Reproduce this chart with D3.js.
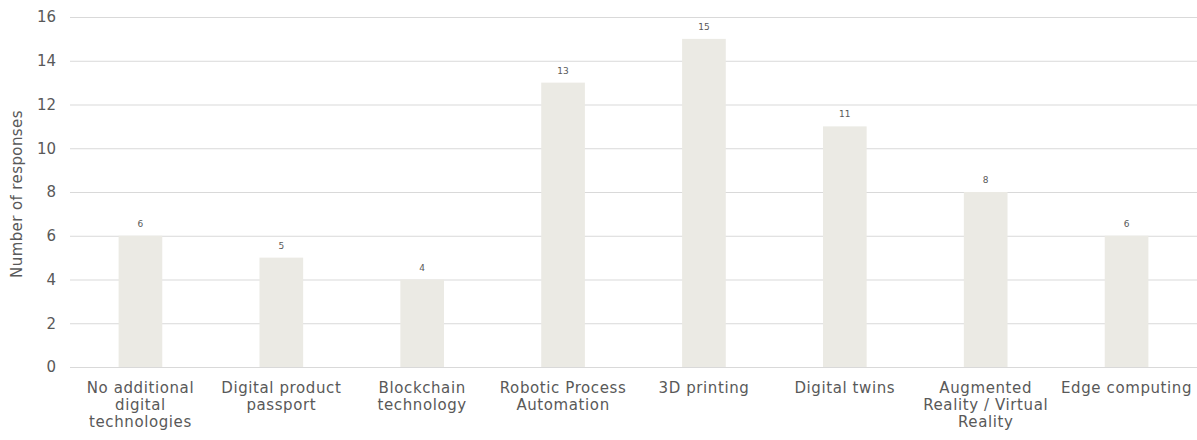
<!DOCTYPE html>
<html>
<head>
<meta charset="utf-8">
<script src="https://cdn.jsdelivr.net/npm/d3@7"></script>
<style>
  body { margin: 0; background: #fff; }
  text { font-family: "DejaVu Sans", sans-serif; fill: #595959; }
</style>
</head>
<body>
<svg id="chart" width="1197" height="440"></svg>
<script>
// data
var categories = [
  "No additional digital technologies",
  "Digital product passport",
  "Blockchain technology",
  "Robotic Process Automation",
  "3D printing",
  "Digital twins",
  "Augmented Reality / Virtual Reality",
  "Edge computing"
];
var responses = [6, 5, 4, 13, 15, 11, 8, 6];
var yTicks = [0, 2, 4, 6, 8, 10, 12, 14, 16];
// hand-wrapped label lines, like the original
var labelLines = [
  ["No additional", "digital", "technologies"],
  ["Digital product", "passport"],
  ["Blockchain", "technology"],
  ["Robotic Process", "Automation"],
  ["3D printing"],
  ["Digital twins"],
  ["Augmented", "Reality / Virtual", "Reality"],
  ["Edge computing"]
];

var margin = {top: 17, right: 0, bottom: 73, left: 70},
    width = 1197 - margin.left - margin.right,
    height = 440 - margin.top - margin.bottom;

var svg = d3.select("#chart")
  .append("g")
  .attr("transform", "translate(" + margin.left + "," + margin.top + ")");

var x = d3.scaleBand()
  .domain(categories)
  .range([0, width])
  .paddingInner(0.69)
  .paddingOuter(0.345);

var y = d3.scaleLinear()
  .domain([0, 16])
  .range([height, 0]);

// gridlines + tick labels
var yAxis = svg.append("g")
  .call(d3.axisLeft(y).tickValues(yTicks).tickSize(-width).tickPadding(14));
yAxis.select(".domain").remove();
yAxis.selectAll(".tick line").attr("stroke", "#d9d9d9").attr("stroke-width", 1);
yAxis.selectAll(".tick text")
  .style("font-size", "15px")
  .style("fill", "#595959")
  .attr("font-family", null);

// bars
svg.selectAll(".bar")
  .data(responses)
  .enter()
  .append("rect")
  .attr("class", "bar")
  .attr("x", function(d, i) { return x(categories[i]); })
  .attr("width", x.bandwidth())
  .attr("y", function(d) { return y(d); })
  .attr("height", function(d) { return height - y(d); })
  .attr("fill", "#ebeae4");

// value labels
svg.selectAll(".val")
  .data(responses)
  .enter()
  .append("text")
  .attr("class", "val")
  .attr("x", function(d, i) { return x(categories[i]) + x.bandwidth() / 2; })
  .attr("y", function(d) { return y(d) - 9; })
  .attr("text-anchor", "middle")
  .style("font-size", "9px")
  .text(function(d) { return d; });

// category labels
var lab = svg.selectAll(".cat")
  .data(labelLines)
  .enter()
  .append("text")
  .attr("class", "cat")
  .attr("text-anchor", "middle")
  .attr("transform", function(d, i) {
    return "translate(" + (x(categories[i]) + x.bandwidth() / 2) + "," + (height + 26) + ")";
  })
  .style("font-size", "15px")
  .style("letter-spacing", "0.6px");
lab.selectAll("tspan")
  .data(function(d) { return d; })
  .enter()
  .append("tspan")
  .attr("x", 0)
  .attr("y", function(d, i) { return i * 17; })
  .text(function(d) { return d; });

// y axis title
svg.append("text")
  .attr("transform", "rotate(-90)")
  .attr("x", -height / 2 - 2)
  .attr("y", -margin.left + 22)
  .attr("text-anchor", "middle")
  .style("font-size", "15px")
  .style("letter-spacing", "0.4px")
  .text("Number of responses");
</script>
</body>
</html>
